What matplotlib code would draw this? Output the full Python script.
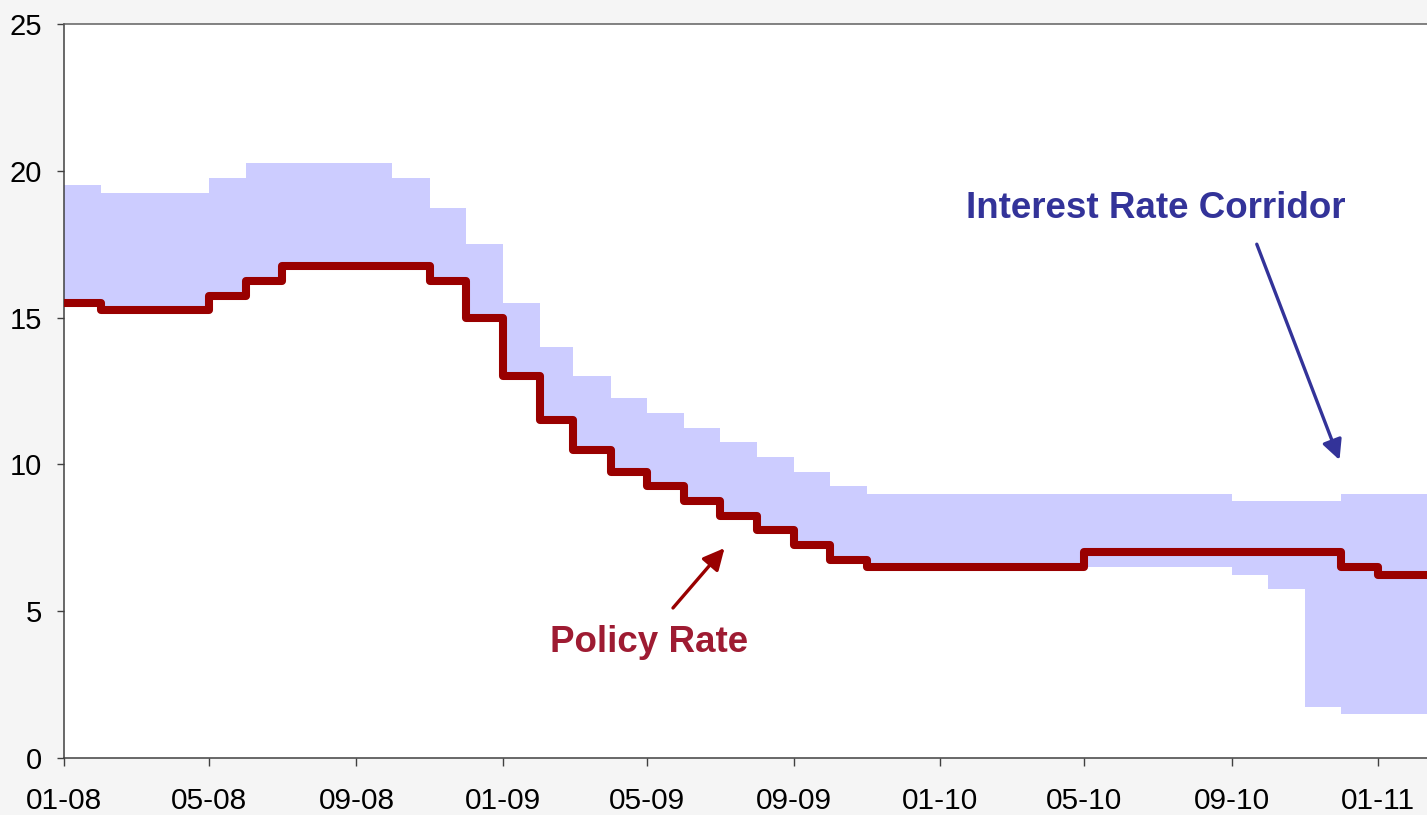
import datetime as dt
import matplotlib
matplotlib.use("Agg")
import matplotlib.pyplot as plt
import matplotlib.dates as mdates
import numpy as np
import pandas as pd

# Monthly observations (value in force at the start of each month), Jan 2008 - Feb 2011
months = pd.date_range("2008-01-01", "2011-02-01", freq="MS")

policy_rate = [
    15.50, 15.25, 15.25, 15.25, 15.75, 16.25, 16.75, 16.75, 16.75, 16.75, 16.25, 15.00,  # 2008
    13.00, 11.50, 10.50, 9.75, 9.25, 8.75, 8.25, 7.75, 7.25, 6.75, 6.50, 6.50,          # 2009
    6.50, 6.50, 6.50, 6.50, 7.00, 7.00, 7.00, 7.00, 7.00, 7.00, 7.00, 6.50,             # 2010
    6.25, 6.25,                                                                          # 2011
]

corridor_upper = [
    19.50, 19.25, 19.25, 19.25, 19.75, 20.25, 20.25, 20.25, 20.25, 19.75, 18.75, 17.50,
    15.50, 14.00, 13.00, 12.25, 11.75, 11.25, 10.75, 10.25, 9.75, 9.25, 9.00, 9.00,
    9.00, 9.00, 9.00, 9.00, 9.00, 9.00, 9.00, 9.00, 8.75, 8.75, 8.75, 9.00,
    9.00, 9.00,
]

corridor_lower = [
    15.50, 15.25, 15.25, 15.25, 15.75, 16.25, 16.75, 16.75, 16.75, 16.75, 16.25, 15.00,
    13.00, 11.50, 10.50, 9.75, 9.25, 8.75, 8.25, 7.75, 7.25, 6.75, 6.50, 6.50,
    6.50, 6.50, 6.50, 6.50, 6.50, 6.50, 6.50, 6.50, 6.25, 5.75, 1.75, 1.50,
    1.50, 1.50,
]

tick_dates = pd.date_range("2008-01-01", "2011-01-01", freq="4MS")
tick_labels = [d.strftime("%m-%y") for d in tick_dates]
y_ticks = [0, 5, 10, 15, 20, 25]

# step edges: each monthly value holds until the next month starts
edges = list(months) + [months[-1] + pd.offsets.MonthBegin(1)]
x_edges = mdates.date2num(edges)
pol = np.append(policy_rate, policy_rate[-1])
up = np.append(corridor_upper, corridor_upper[-1])
lo = np.append(corridor_lower, corridor_lower[-1])

BG = "#f5f5f5"
RED = "#990000"
RED_TXT = "#9e1b32"
BLUE_TXT = "#333399"
FILL = "#ccccff"
FONT = ["Liberation Sans", "DejaVu Sans"]

fig = plt.figure(figsize=(14.27, 8.15), dpi=100, facecolor=BG)
ax = fig.add_axes([64 / 1427, 57 / 815, 1363 / 1427, 734 / 815])
ax.set_facecolor("white")

ax.fill_between(x_edges, lo, up, step="post", color=FILL, linewidth=0, zorder=1)
ax.plot(x_edges, pol, drawstyle="steps-post", color=RED, linewidth=5.8,
        solid_joinstyle="round", solid_capstyle="round", zorder=3)

ax.set_xlim(mdates.date2num(dt.datetime(2008, 1, 1)),
            mdates.date2num(dt.datetime(2011, 2, 11)))
ax.set_ylim(0, 25)

ax.set_xticks(mdates.date2num(list(tick_dates)))
ax.set_xticklabels(tick_labels, fontsize=21.5, family=FONT, color="black")
ax.set_yticks(y_ticks)
ax.set_yticklabels([str(v) for v in y_ticks], fontsize=21, family=FONT, color="black")
ax.tick_params(axis="x", direction="out", length=6, width=1.0, color="#404040", pad=15)
ax.tick_params(axis="y", direction="out", length=5, width=1.0, color="#404040", pad=11)

for side in ("left", "bottom"):
    ax.spines[side].set_color("#404040")
    ax.spines[side].set_linewidth(1.1)
ax.spines["top"].set_color("#606060")
ax.spines["top"].set_linewidth(1.1)
ax.spines["right"].set_visible(False)

def dnum(y, m, d):
    return mdates.date2num(dt.datetime(y, m, d))

# annotations
ax.annotate("", xy=(dnum(2009, 7, 5), 7.15), xytext=(dnum(2009, 5, 23), 5.11),
            arrowprops=dict(arrowstyle="-|>,head_length=0.65,head_width=0.32",
                            color=RED, lw=2.4, shrinkA=0, shrinkB=0, mutation_scale=20),
            zorder=4)
ax.text(dnum(2009, 5, 3), 3.61, "Policy Rate", color=RED_TXT, fontsize=26.5,
        fontweight="bold", family=FONT, ha="center", va="baseline", zorder=5)

ax.annotate("", xy=(dnum(2010, 11, 30), 10.15), xytext=(dnum(2010, 9, 22), 17.5),
            arrowprops=dict(arrowstyle="-|>,head_length=0.6,head_width=0.3",
                            color=BLUE_TXT, lw=2.4, shrinkA=0, shrinkB=0, mutation_scale=20),
            zorder=4)
ax.text(dnum(2010, 6, 30), 18.39, "Interest Rate Corridor", color=BLUE_TXT, fontsize=26.5,
        fontweight="bold", family=FONT, ha="center", va="baseline", zorder=5)

fig.savefig("out.png", dpi=100, facecolor=BG)
